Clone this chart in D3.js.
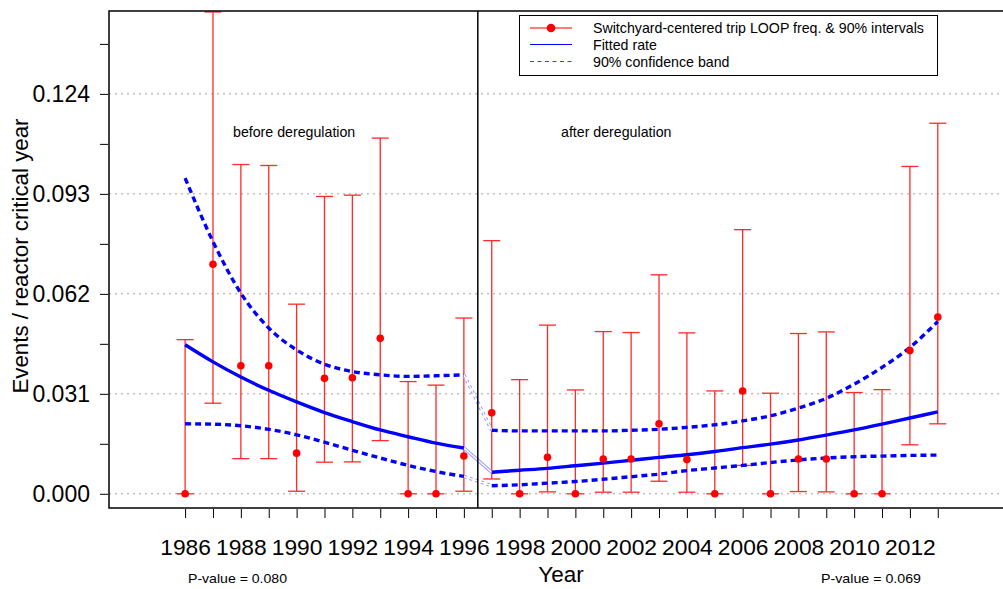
<!DOCTYPE html>
<html>
<head>
<meta charset="utf-8">
<script src="https://cdn.jsdelivr.net/npm/d3@7"></script>
<style>
  html, body { margin: 0; padding: 0; background: #fff; }
  svg { display: block; font-family: "Liberation Sans", Arial, Helvetica, sans-serif; }
</style>
</head>
<body>
<svg id="chart" width="1003" height="589"></svg>
<script>
// Switchyard-centered LOOP frequency by year, with fitted trend before/after deregulation
const years = [1986, 1987, 1988, 1989, 1990, 1991, 1992, 1993, 1994, 1995, 1996,
               1997, 1998, 1999, 2000, 2001, 2002, 2003, 2004, 2005, 2006, 2007,
               2008, 2009, 2010, 2011, 2012, 2013];
const freq = [0, 0.0712, 0.0397, 0.0397, 0.0126, 0.0358, 0.0360, 0.0482, 0, 0, 0.0117,
              0.0251, 0, 0.0113, 0, 0.0108, 0.0108, 0.0217, 0.0106, 0, 0.0319, 0,
              0.0108, 0.0108, 0, 0, 0.0444, 0.0548];
const freqLower = [0, 0.0281, 0.0109, 0.0109, 0.0008, 0.0098, 0.0099, 0.0165, 0, 0, 0.0008,
                   0.0046, 0, 0.0006, 0, 0.0005, 0.0005, 0.0039, 0.0005, 0, 0.0088, 0,
                   0.0007, 0.0006, 0, 0, 0.0152, 0.0217];
const freqUpper = [0.0478, 0.1494, 0.1021, 0.1018, 0.0588, 0.0922, 0.0926, 0.1103, 0.0348, 0.0337, 0.0545,
                   0.0785, 0.0354, 0.0523, 0.0322, 0.0503, 0.0500, 0.0679, 0.0499, 0.0319, 0.0819, 0.0312,
                   0.0497, 0.0502, 0.0314, 0.0323, 0.1015, 0.1149];

// Fitted rate and 90% band, period before deregulation (1986-1996)
const yearsBefore = [1986, 1987, 1988, 1989, 1990, 1991, 1992, 1993, 1994, 1995, 1996];
const fitBefore = [0.0462, 0.0409, 0.0362, 0.0321, 0.0285, 0.0252, 0.0224, 0.0198, 0.0177, 0.0157, 0.0142];
const bandUpperBefore = [0.0979, 0.0782, 0.0622, 0.0514, 0.0446, 0.0402, 0.0379, 0.0369, 0.0364, 0.0366, 0.0369];
const bandLowerBefore = [0.0217, 0.0216, 0.0211, 0.0200, 0.0183, 0.0160, 0.0135, 0.0111, 0.0088, 0.0069, 0.0054];

// Fitted rate and 90% band, period after deregulation (1997-2013)
const yearsAfter = [1997, 1998, 1999, 2000, 2001, 2002, 2003, 2004, 2005, 2006, 2007,
                    2008, 2009, 2010, 2011, 2012, 2013];
const fitAfter = [0.0067, 0.0073, 0.0079, 0.0087, 0.0095, 0.0104, 0.0113, 0.0121, 0.0131, 0.0143, 0.0154,
                  0.0167, 0.0182, 0.0198, 0.0216, 0.0235, 0.0254];
const bandUpperAfter = [0.0197, 0.0195, 0.0195, 0.0195, 0.0195, 0.0197, 0.0200, 0.0206, 0.0214, 0.0226, 0.0242,
                        0.0266, 0.0296, 0.0340, 0.0392, 0.0454, 0.0534];
const bandLowerAfter = [0.0025, 0.0028, 0.0033, 0.0038, 0.0045, 0.0053, 0.0061, 0.0072, 0.0080, 0.0088, 0.0097,
                        0.0105, 0.0111, 0.0115, 0.0117, 0.0119, 0.0120];

// Axis ticks
const yTickValues = [0, 0.031, 0.062, 0.093, 0.124];
const yTickLabels = ["0.000", "0.031", "0.062", "0.093", "0.124"];
const yMinorTicks = [0.0155, 0.0465, 0.0775, 0.1085, 0.1395];
const xTickLabels = ["1986", "1988", "1990", "1992", "1994", "1996", "1998", "2000",
                     "2002", "2004", "2006", "2008", "2010", "2012"];
const breakYear = 1996.5;

const legendLabels = ["Switchyard-centered trip LOOP freq. & 90% intervals", "Fitted rate", "90% confidence band"];

const svg = d3.select("#chart");
const frame = { left: 109, top: 11, right: 1015, bottom: 508 };

const x = d3.scaleLinear().domain([1983.27, 2015.77]).range([frame.left, frame.right]);
const y = d3.scaleLinear().domain([-0.0044, 0.1497]).range([frame.bottom, frame.top]);

// Horizontal dotted grid
svg.append("g")
  .selectAll("line")
  .data(yTickValues)
  .join("line")
  .attr("x1", frame.left).attr("x2", frame.right)
  .attr("y1", d => y(d)).attr("y2", d => y(d))
  .attr("stroke", "#a0a0a0").attr("stroke-width", 1)
  .attr("stroke-dasharray", "2,4");

// Y axis: labelled major ticks plus unlabelled minor ticks
const yAxis = d3.axisLeft(y)
  .tickValues(yTickValues.concat(yMinorTicks))
  .tickSize(8)
  .tickPadding(10)
  .tickFormat(d => {
    const i = yTickValues.indexOf(d);
    return i >= 0 ? yTickLabels[i] : "";
  });
const gy = svg.append("g").attr("transform", `translate(${frame.left - 1},0)`).call(yAxis);
gy.select(".domain").remove();
gy.selectAll("line").attr("stroke", "#000").attr("stroke-width", 1);
gy.selectAll("text").attr("font-size", 23).attr("fill", "#000")
  .attr("font-family", "'Liberation Sans', Arial, sans-serif");

// X axis: a tick each year, labels on even years
const xAxis = d3.axisBottom(x)
  .tickValues(years)
  .tickSize(9)
  .tickPadding(21)
  .tickFormat(d => xTickLabels.includes(String(d)) ? String(d) : "");
const gx = svg.append("g").attr("transform", `translate(0,${frame.bottom + 1})`).call(xAxis);
gx.select(".domain").remove();
gx.selectAll("line").attr("stroke", "#000").attr("stroke-width", 1);
gx.selectAll("text").attr("font-size", 22.8).attr("fill", "#000")
  .attr("font-family", "'Liberation Sans', Arial, sans-serif");

// Error bars
const bars = svg.append("g").attr("stroke", "#ff2a2a").attr("stroke-width", 1.3);
const capHalf = 8.5;
years.forEach((yr, i) => {
  const cx = x(yr);
  bars.append("line").attr("x1", cx).attr("x2", cx)
    .attr("y1", y(freqLower[i])).attr("y2", y(freqUpper[i]));
  bars.append("line").attr("x1", cx - capHalf).attr("x2", cx + capHalf)
    .attr("y1", y(freqUpper[i])).attr("y2", y(freqUpper[i]));
  bars.append("line").attr("x1", cx - capHalf).attr("x2", cx + capHalf)
    .attr("y1", y(freqLower[i])).attr("y2", y(freqLower[i]));
});

// Fitted curves and bands
const line = d3.line().x(d => x(d[0])).y(d => y(d[1])).curve(d3.curveMonotoneX);
const zipped = (xs, ys) => xs.map((v, i) => [v, ys[i]]);

const curveGroups = [
  { before: fitBefore, after: fitAfter, dashed: false },
  { before: bandUpperBefore, after: bandUpperAfter, dashed: true },
  { before: bandLowerBefore, after: bandLowerAfter, dashed: true }
];

// Thin hollow connectors across the break
const conn = svg.append("g");
curveGroups.forEach(c => {
  const seg = [[1996, c.before[c.before.length - 1]], [1997, c.after[0]]];
  conn.append("path").attr("d", d3.line().x(d => x(d[0])).y(d => y(d[1]))(seg))
    .attr("fill", "none").attr("stroke", "#9a9aff").attr("stroke-width", 3.4)
    .attr("stroke-dasharray", c.dashed ? "3,3" : null);
  conn.append("path").attr("d", d3.line().x(d => x(d[0])).y(d => y(d[1]))(seg))
    .attr("fill", "none").attr("stroke", "#fff").attr("stroke-width", 1.4);
});

const curves = svg.append("g");
curveGroups.forEach(c => {
  [zipped(yearsBefore, c.before), zipped(yearsAfter, c.after)].forEach(seg => {
    curves.append("path").attr("d", line(seg))
      .attr("fill", "none").attr("stroke", "#0000ff")
      .attr("stroke-width", 3.4)
      .attr("stroke-dasharray", c.dashed ? "6,4" : null);
  });
});

// Point estimates
svg.append("g").selectAll("circle")
  .data(years.map((yr, i) => [yr, freq[i]]))
  .join("circle")
  .attr("cx", d => x(d[0])).attr("cy", d => y(d[1]))
  .attr("r", 3.8).attr("fill", "#ff0000");

// Plot frame and deregulation divider
svg.append("rect")
  .attr("x", frame.left).attr("y", frame.top)
  .attr("width", frame.right - frame.left).attr("height", frame.bottom - frame.top)
  .attr("fill", "none").attr("stroke", "#000").attr("stroke-width", 1.5);
svg.append("line")
  .attr("x1", x(breakYear)).attr("x2", x(breakYear))
  .attr("y1", frame.top).attr("y2", frame.bottom)
  .attr("stroke", "#000").attr("stroke-width", 1.5);

// Period annotations
svg.append("text").attr("x", 233).attr("y", 137).attr("font-size", 14.2).text("before deregulation");
svg.append("text").attr("x", 561).attr("y", 137).attr("font-size", 14.2).text("after deregulation");

// Legend
const lg = svg.append("g");
lg.append("rect").attr("x", 519.5).attr("y", 15.5).attr("width", 418).attr("height", 60)
  .attr("fill", "#fff").attr("stroke", "#000").attr("stroke-width", 1);
const rowsY = [28, 44.5, 61.5];
lg.append("line").attr("x1", 530).attr("x2", 572).attr("y1", rowsY[0]).attr("y2", rowsY[0])
  .attr("stroke", "#ff5050").attr("stroke-width", 1.5);
lg.append("circle").attr("cx", 551).attr("cy", rowsY[0]).attr("r", 4.3).attr("fill", "#ff0000");
lg.append("line").attr("x1", 530).attr("x2", 572).attr("y1", rowsY[1]).attr("y2", rowsY[1])
  .attr("stroke", "#0000ff").attr("stroke-width", 1);
lg.append("line").attr("x1", 530).attr("x2", 572).attr("y1", rowsY[2]).attr("y2", rowsY[2])
  .attr("stroke", "#3a3aff").attr("stroke-width", 1).attr("stroke-dasharray", "4,3.5");
legendLabels.forEach((t, i) => {
  lg.append("text").attr("x", 593).attr("y", rowsY[i] + 5).attr("font-size", 14.2).text(t);
});

// Axis titles
svg.append("text")
  .attr("transform", "translate(28,256) rotate(-90)")
  .attr("text-anchor", "middle").attr("font-size", 22.3)
  .text("Events / reactor critical year");
svg.append("text").attr("x", 561).attr("y", 582).attr("text-anchor", "middle")
  .attr("font-size", 22.5).text("Year");

// P-values for each period's trend
svg.append("text").attr("x", 188).attr("y", 583).attr("font-size", 13)
  .attr("textLength", 99).attr("lengthAdjust", "spacingAndGlyphs").text("P-value = 0.080");
svg.append("text").attr("x", 821).attr("y", 583).attr("font-size", 13)
  .attr("textLength", 100).attr("lengthAdjust", "spacingAndGlyphs").text("P-value = 0.069");
</script>
</body>
</html>
